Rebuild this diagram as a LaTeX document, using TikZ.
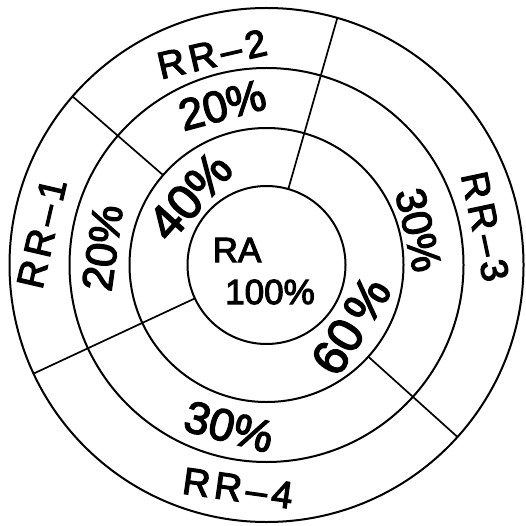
\documentclass[tikz,border=0pt]{standalone}
\usepackage{fontspec}
\setmainfont[FakeBold=3]{Liberation Sans}
\newfontfamily\hand[FakeBold=3]{Liberation Sans}
\newfontfamily\rrfont[LetterSpace=12,FakeBold=3]{Liberation Sans}
\begin{document}
\begin{tikzpicture}[x=1pt,y=1pt,
  ring/.style={circle,draw,line width=2pt,inner sep=0pt,outer sep=0pt},
  divider/.style={line width=1.7pt},
  rrlabel/.style={font=\rrfont\fontsize{38}{38}\selectfont,inner sep=0pt},
  pclabel/.style={font=\hand\fontsize{#1}{#1}\selectfont,inner sep=0pt},
  pclabel/.default=44
]
\useasboundingbox (0,0) rectangle (526,525);
\coordinate (C) at (266.5,260);
\node[ring,minimum size=158pt] (c1) at (C) {};
\node[ring,minimum size=274pt] (c2) at (C) {};
\node[ring,minimum size=394pt] (c3) at (C) {};
\node[ring,minimum size=514pt] (c4) at (C) {};
% dividers
\draw[divider] (c2.139) -- (c4.139);
\draw[divider] (c1.74) -- (c4.74);
\draw[divider] (c1.205) -- (c4.205);
\draw[divider] (c2.318) -- (c4.318);
% centre
\node[pclabel=35] (ra) at (237,275) {RA};
\node[pclabel=35] (hundred) at (270,233) {100\%};
% inner ring
\path (C) ++(138:103) node[pclabel=49,rotate=48] (p40) {40\%};
\path (C) ++(-35.7:104) node[pclabel=49,rotate=58] (p60) {60\hspace{6pt}\%};
% middle ring
\path (C) ++(105.5:166) node[pclabel=44,rotate=15] (p20t) {20\%};
\path (C) ++(174:165) node[pclabel=43,rotate=82] (p20l) {20\%};
\path (C) ++(13:156) node[pclabel=42,rotate=-77] (p30r) {30\%};
\path (C) ++(257:166) node[pclabel=45,rotate=-15] (p30b) {30\%};
% outer ring
\path (C) ++(104.5:218) node[rrlabel,rotate=13] (rr2) {RR–2};
\path (C) ++(172:227) node[rrlabel,rotate=77] (rr1) {RR–1};
\path (C) ++(10:222) node[rrlabel,rotate=-78] (rr3) {RR–3};
\path (C) ++(262.7:225) node[rrlabel,rotate=-8] (rr4) {RR–4};
\end{tikzpicture}
\end{document}
